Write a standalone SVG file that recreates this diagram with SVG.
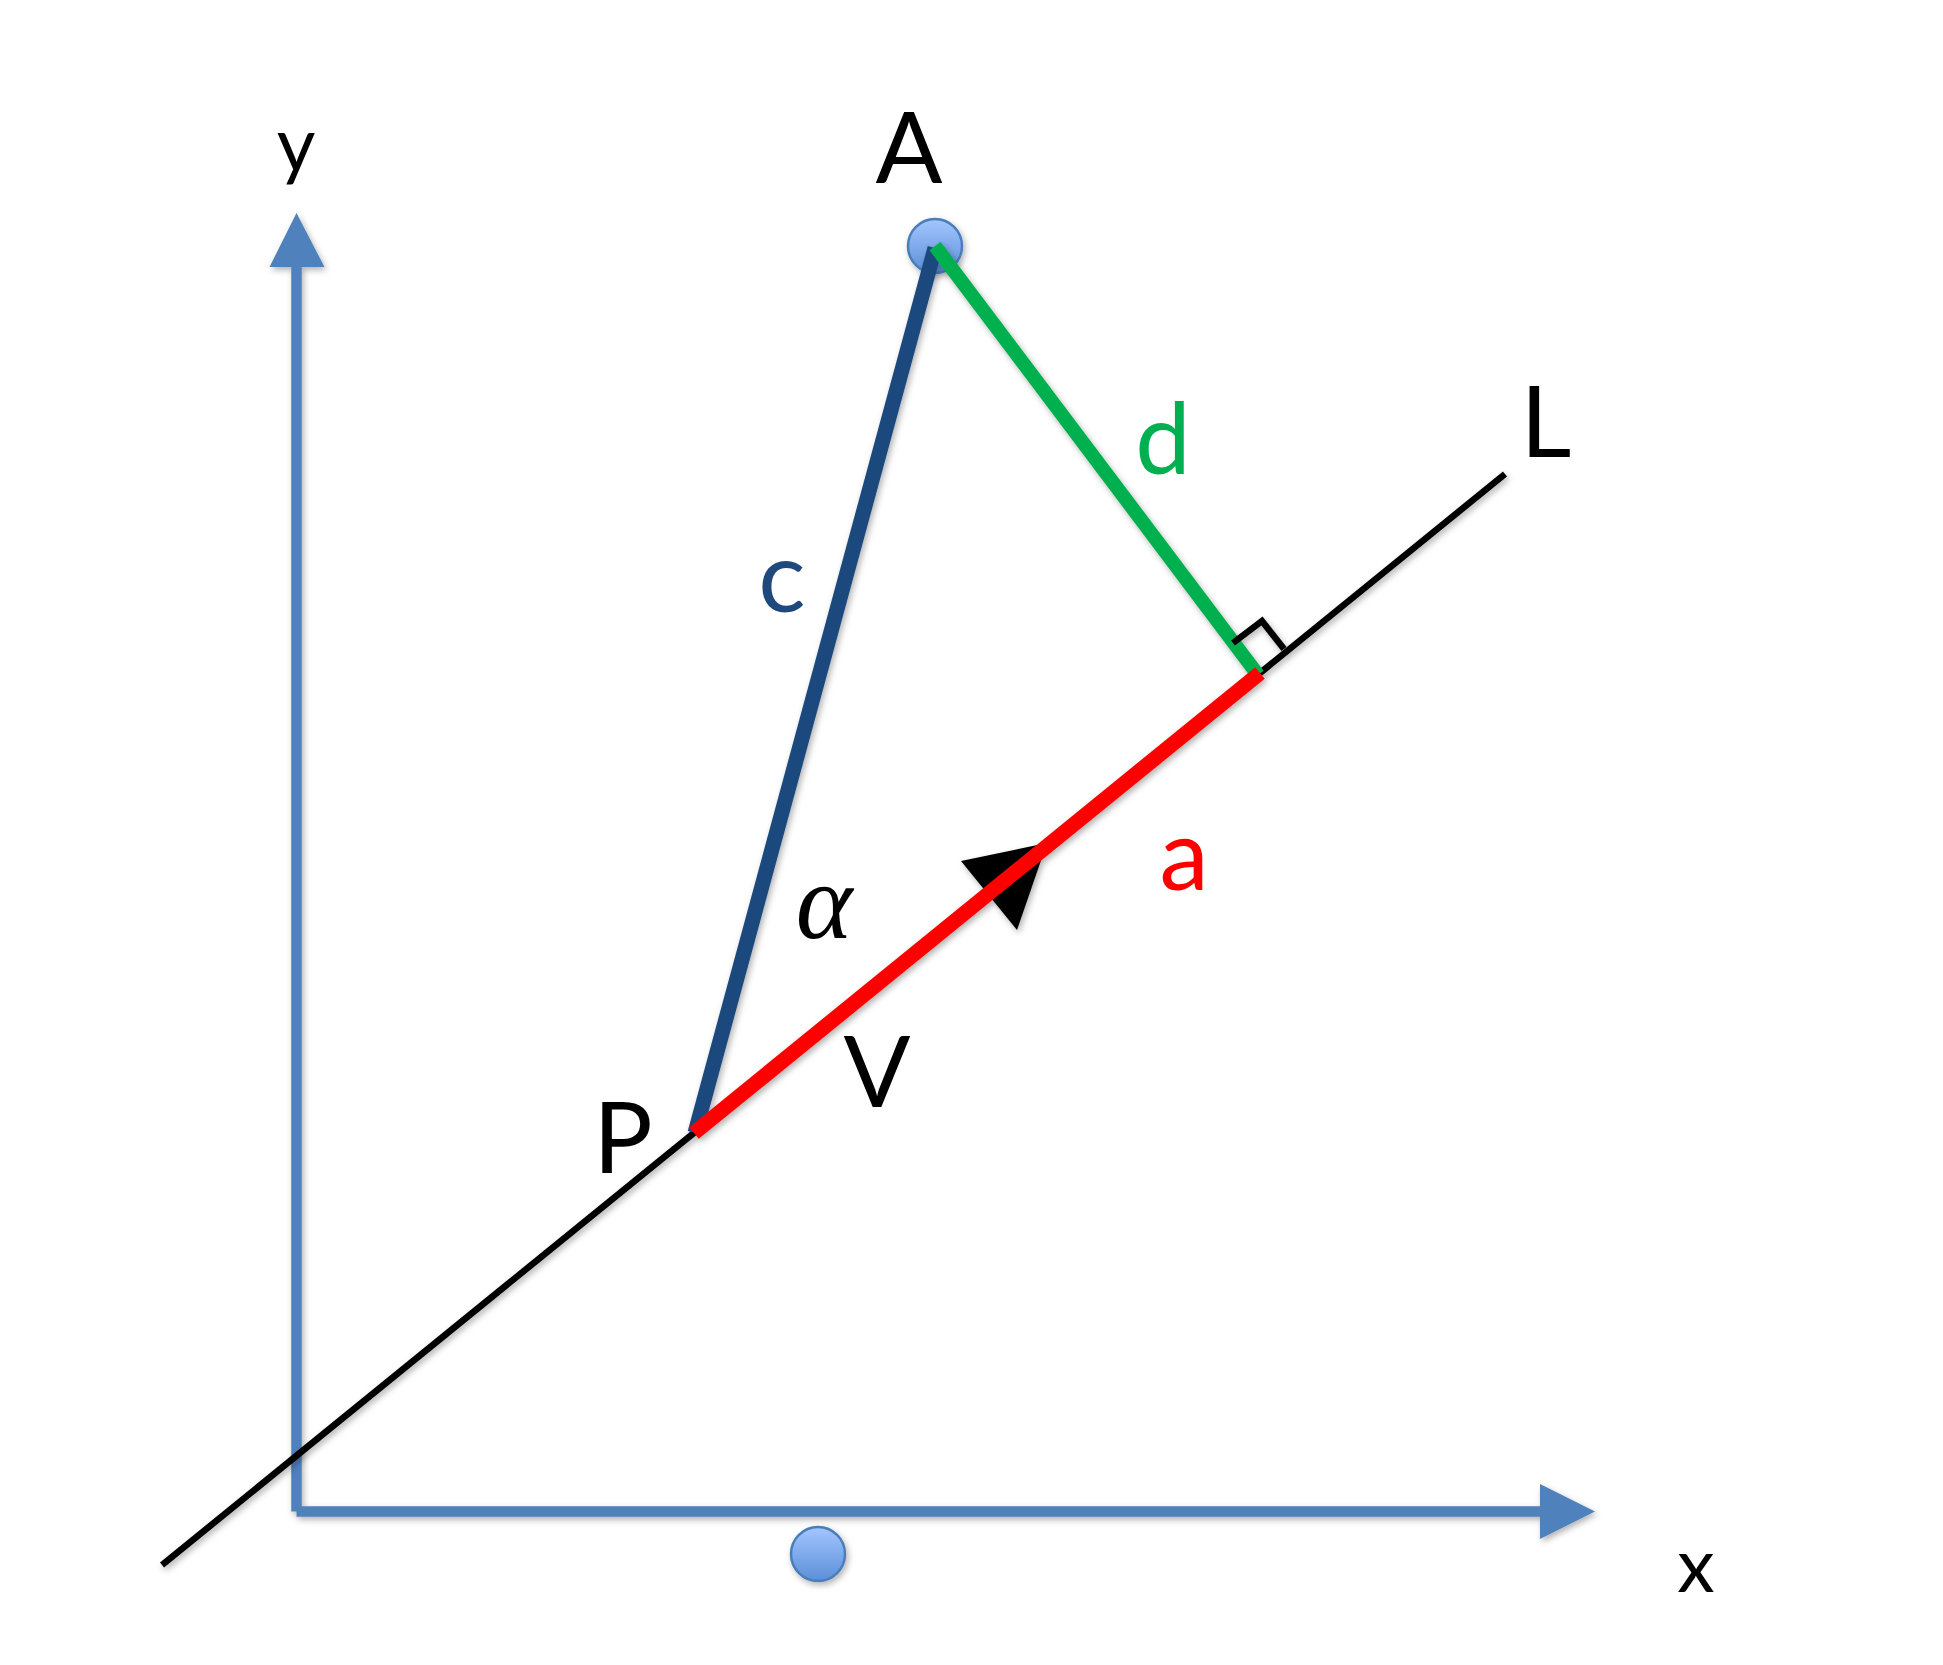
<svg xmlns="http://www.w3.org/2000/svg" width="1943" height="1665" viewBox="0 0 1943 1665">
  <style>
    .lbl { font-family: Lato, "Liberation Sans", sans-serif; text-anchor: middle; }
    .big { font-size: 99px; }
    .small { font-size: 75px; }
    .axis { stroke: #4F81BD; stroke-width: 10.5; fill: none; }
    .axhead { fill: #4F81BD; }
    .pt { fill: url(#ptGrad); stroke: #4A7EBB; stroke-width: 2.5; }
  </style>
  <defs>
    <linearGradient id="ptGrad" x1="0" y1="0" x2="0" y2="1">
      <stop offset="0" stop-color="#A3C6FF"/>
      <stop offset="1" stop-color="#5C8FD8"/>
    </linearGradient>
    <filter id="shadow" x="-20%" y="-20%" width="140%" height="140%">
      <feDropShadow dx="2" dy="3" stdDeviation="3" flood-color="#000" flood-opacity="0.3"/>
    </filter>
  </defs>
  <rect width="1943" height="1665" fill="#fff"/>

  <g id="axes" filter="url(#shadow)">
    <line class="axis" x1="296.5" y1="1511.5" x2="296.5" y2="265"/>
    <polygon class="axhead" points="296.5,213 269.5,267 324.5,267"/>
    <line class="axis" x1="296.5" y1="1511.5" x2="1542" y2="1511.5"/>
    <polygon class="axhead" points="1595,1511.5 1540,1484 1540,1539"/>
  </g>

  <g id="pointA">
    <circle class="pt" cx="935" cy="246" r="27" filter="url(#shadow)"/>
  </g>
  <g id="pointX">
    <circle class="pt" cx="818" cy="1554" r="27" filter="url(#shadow)"/>
  </g>

  <g id="connectors" filter="url(#shadow)">
    <line id="lineL" x1="162" y1="1565" x2="1505" y2="474" stroke="#000" stroke-width="6.5"/>
    <polygon id="arrowV" points="1047,843 961,861 1017,930" fill="#000"/>
    <line id="segC" x1="935" y1="248" x2="695" y2="1133" stroke="#1F497D" stroke-width="15"/>
    <line id="segD" x1="935" y1="246" x2="1258" y2="675" stroke="#00B050" stroke-width="14"/>
    <line id="segA" x1="694" y1="1133" x2="1260" y2="673" stroke="#FF0000" stroke-width="15"/>
    <polyline id="rightAngle" points="1233,643 1262,621 1284,649" fill="none" stroke="#000" stroke-width="6.5"/>
  </g>

  <g id="labels">
    <text class="lbl small" x="296" y="171">y</text>
    <text class="lbl big" x="909" y="183">A</text>
    <text class="lbl big" x="1163" y="474" fill="#00B050">d</text>
    <text class="lbl big" x="1546" y="457">L</text>
    <text class="lbl big" x="782" y="612" fill="#1F497D">c</text>
    <text x="824" y="938" font-family="'Liberation Serif', 'DejaVu Serif', serif" font-style="italic" font-size="108" text-anchor="middle">α</text>
    <text class="lbl big" x="1184" y="890" fill="#FF0000">a</text>
    <text class="lbl big" x="877" y="1107">V</text>
    <text class="lbl big" x="623" y="1173">P</text>
    <text class="lbl small" x="1696" y="1592">x</text>
  </g>
</svg>
